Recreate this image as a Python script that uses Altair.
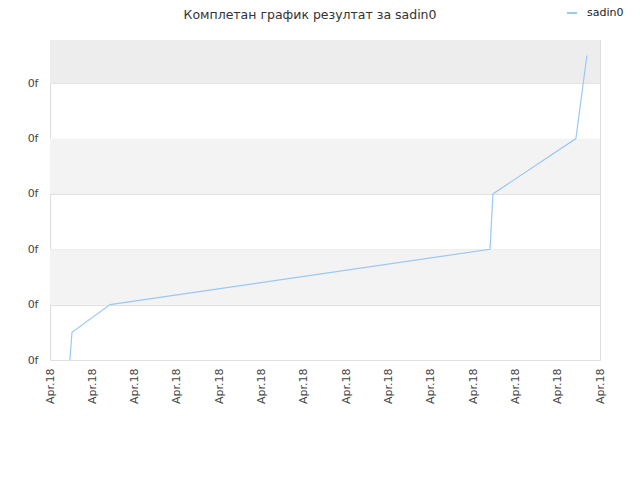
import altair as alt
import pandas as pd

title_text = "Комплетан график резултат за sadin0"
series_name = "sadin0"

# line points (x in tick units along the date axis, y in score units)
line_x = [0.47, 0.52, 1.42, 10.40, 10.47, 12.43, 12.69]
line_y = [0.0, 0.5, 1.0, 2.0, 3.0, 4.0, 5.5]

x_ticks = list(range(14))
x_label = "Apr.18"
y_ticks = [0, 1, 2, 3, 4, 5]
y_label = "0f"
y_max = 5.78

band_lo = [1, 3, 5]
band_hi = [2, 4, 5.78]
band_col = ["#f3f3f3", "#f3f3f3", "#ededed"]

line_df = pd.DataFrame({"x": line_x, "y": line_y, "series": [series_name] * len(line_x)})
band_df = pd.DataFrame({"lo": band_lo, "hi": band_hi, "c": band_col})

xscale = alt.Scale(domain=[0, 13], nice=False, zero=False)
yscale = alt.Scale(domain=[0, y_max], nice=False, zero=True)

bands = alt.Chart(band_df).mark_rect().encode(
    x=alt.datum(0, scale=xscale),
    x2=alt.datum(13),
    y=alt.Y("lo:Q", scale=yscale),
    y2="hi:Q",
    color=alt.Color("c:N", scale=None),
)

line = alt.Chart(line_df).mark_line(strokeWidth=1.2).encode(
    x=alt.X("x:Q", scale=xscale, title=None,
            axis=alt.Axis(values=x_ticks, labelExpr=f"'{x_label}'", labelAngle=-90,
                          labelAlign="right", labelBaseline="middle", labelPadding=8,
                          ticks=False, domain=False, grid=False, labelFontSize=11,
                          labelColor="#444444", labelFont="DejaVu Sans")),
    y=alt.Y("y:Q", scale=yscale, title=None,
            axis=alt.Axis(values=y_ticks, labelExpr=f"'{y_label}'", labelPadding=12,
                          ticks=False, domain=False, grid=True, gridColor="#e0e0e0",
                          labelFontSize=11, labelColor="#444444", labelFont="DejaVu Sans")),
    color=alt.Color("series:N", scale=alt.Scale(range=["#99c8f5"]),
                    legend=alt.Legend(title=None, orient="none", legendX=516, legendY=-33,
                                      symbolType="stroke", symbolSize=100, symbolStrokeWidth=2,
                                      labelOffset=9, labelLimit=60,
                                      labelFontSize=11, labelColor="#222222",
                                      labelFont="DejaVu Sans", padding=0)),
)

chart = alt.layer(bands, line).properties(
    width=550, height=320,
    title=alt.TitleParams(title_text, anchor="middle", dx=-15, offset=0, dy=14, fontSize=12.5,
                          fontWeight="normal", color="#333333", font="DejaVu Sans"),
    autosize=alt.AutoSizeParams(type="none"),
    padding={"left": 42, "top": 32, "right": 30, "bottom": 104},
).configure_view(stroke="#dddddd")

chart.save("out.html", embed_options={"renderer": "svg", "actions": False})
